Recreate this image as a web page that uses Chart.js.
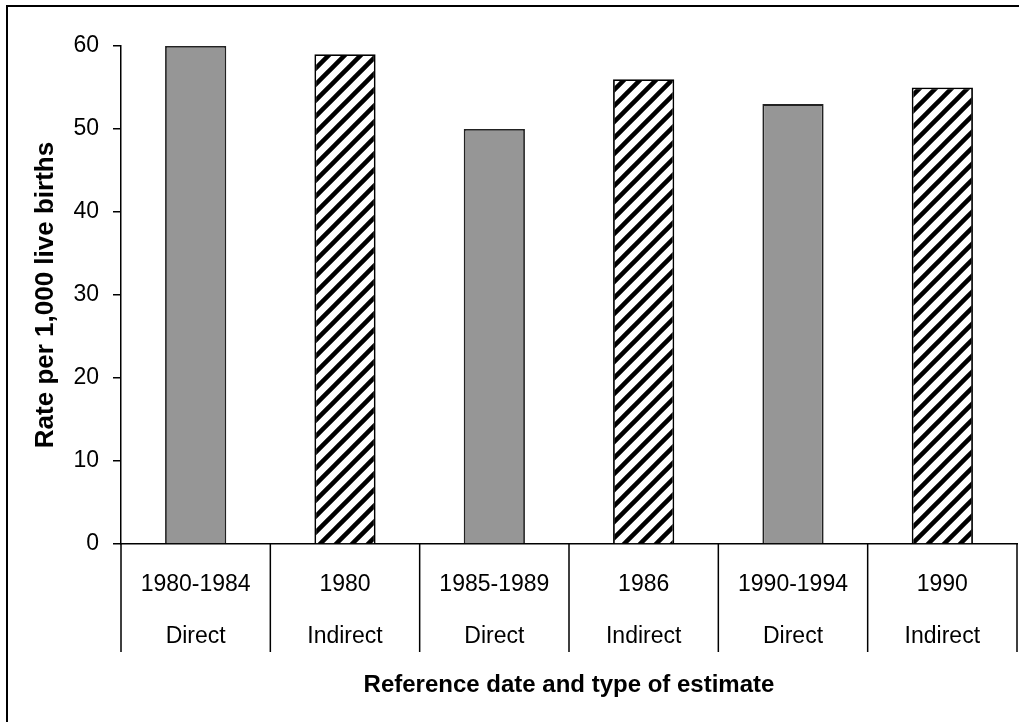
<!DOCTYPE html>
<html>
<head>
<meta charset="utf-8">
<script src="https://cdn.jsdelivr.net/npm/chart.js@4"></script>
<style>
  html, body { margin: 0; padding: 0; background: #fff; }
  #wrap { width: 1019px; height: 722px; position: relative; }
</style>
</head>
<body>
<div id="wrap"><canvas id="mortalityChart"></canvas></div>
<script>
// Valeurs
const periods = ['1980-1984', '1980', '1985-1989', '1986', '1990-1994', '1990'];
const estimateTypes = ['Direct', 'Indirect', 'Direct', 'Indirect', 'Direct', 'Indirect'];
const rates = [60, 59, 50, 56, 53, 55];
const yTicks = [0, 10, 20, 30, 40, 50, 60];

// Motif hachuré pour les estimations indirectes
function makeHatch() {
    const c = document.createElement('canvas');
    c.width = 16; c.height = 16;
    const g = c.getContext('2d');
    g.fillStyle = '#fff';
    g.fillRect(0, 0, 16, 16);
    g.strokeStyle = '#000';
    g.lineWidth = 4.5;
    g.beginPath();
    g.moveTo(-4, 20); g.lineTo(20, -4);
    g.moveTo(-4, 4); g.lineTo(4, -4);
    g.moveTo(12, 20); g.lineTo(20, 12);
    g.stroke();
    return g.createPattern(c, 'repeat');
}
const hatch = makeHatch();

const fills = estimateTypes.map(t => t === 'Direct' ? '#969696' : hatch);
const borders = estimateTypes.map(t => t === 'Direct' ? '#222' : '#000');

// Séparateurs sous l'axe + cadre extérieur
const decorPlugin = {
    id: 'decor',
    afterDraw(chart) {
        const ctx = chart.ctx;
        const x = chart.scales.x;
        ctx.save();
        ctx.strokeStyle = '#000';
        ctx.lineWidth = 1.5;
        ctx.beginPath();
        for (let i = 0; i <= periods.length; i++) {
            const px = x.getPixelForValue(i - 0.5);
            ctx.moveTo(px, x.top);
            ctx.lineTo(px, x.top + 108);
        }
        ctx.stroke();
        ctx.lineWidth = 2;
        ctx.strokeRect(7, 6, 1040, 740);
        ctx.restore();
    }
};

new Chart(document.getElementById('mortalityChart'), {
    type: 'bar',
    data: {
        labels: periods.map((p, i) => [p, estimateTypes[i]]),
        datasets: [{
            data: rates,
            backgroundColor: fills,
            borderColor: borders,
            borderWidth: 1.8,
            categoryPercentage: 1,
            barPercentage: 0.41
        }]
    },
    options: {
        responsive: true,
        maintainAspectRatio: false,
        animation: false,
        layout: { padding: { left: 0, right: 2, top: 46, bottom: 0 } },
        plugins: {
            legend: { display: false },
            tooltip: { enabled: false }
        },
        scales: {
            x: {
                afterFit: s => { s.height = 178; },
                grid: { display: false, drawTicks: false },
                border: { display: true, color: '#000', width: 1.5 },
                ticks: {
                    color: '#000',
                    padding: 15,
                    autoSkip: false,
                    maxRotation: 0,
                    font: { family: 'Liberation Sans', size: 23, lineHeight: 2.24 }
                },
                title: {
                    display: true,
                    text: 'Reference date and type of estimate',
                    color: '#000',
                    font: { family: 'Liberation Sans', size: 24, weight: 'bold', lineHeight: 1.2 },
                    padding: { top: 0, bottom: 22 }
                }
            },
            y: {
                min: 0,
                max: 60,
                afterFit: s => { s.width = 121; },
                afterBuildTicks: s => { s.ticks = yTicks.map(v => ({ value: v })); },
                grid: {
                    display: true,
                    drawOnChartArea: false,
                    drawTicks: true,
                    tickLength: 8,
                    color: '#000',
                    lineWidth: 1.5
                },
                border: { display: true, color: '#000', width: 1.5 },
                ticks: {
                    color: '#000',
                    padding: 14,
                    font: { family: 'Liberation Sans', size: 23 }
                },
                title: {
                    display: true,
                    text: 'Rate per 1,000 live births',
                    color: '#000',
                    font: { family: 'Liberation Sans', size: 26, weight: 'bold', lineHeight: 1.2 },
                    padding: { top: 30, bottom: 0 }
                }
            }
        }
    },
    plugins: [decorPlugin]
});
</script>
</body>
</html>
